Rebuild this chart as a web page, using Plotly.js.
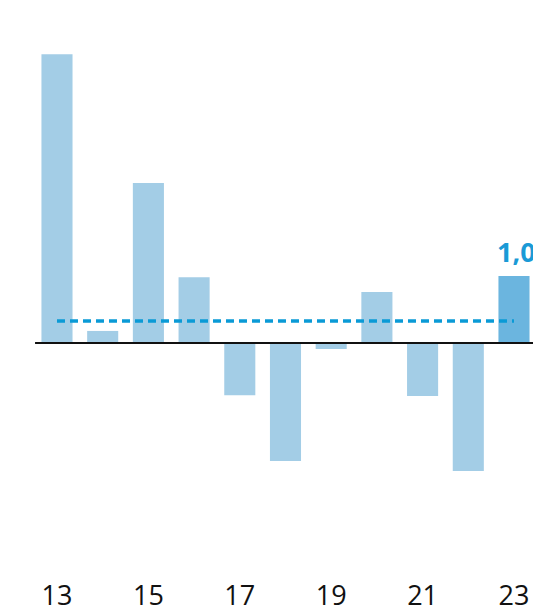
<!DOCTYPE html>
<html>
<head>
<meta charset="utf-8">
<script src="https://cdn.plot.ly/plotly-3.0.1.min.js"></script>
<style>html,body{margin:0;padding:0;background:#fff;}#chart{width:533px;height:613px;}</style>
</head>
<body>
<div id="chart"></div>
<script>
const years = [13, 14, 15, 16, 17, 18, 19, 20, 21, 22, 23];
const values = [4.31, 0.18, 2.39, 0.98, -0.78, -1.76, -0.09, 0.76, -0.79, -1.91, 1.0];
const barColors = ['#a3cde6','#a3cde6','#a3cde6','#a3cde6','#a3cde6','#a3cde6','#a3cde6','#a3cde6','#a3cde6','#a3cde6','#6bb5df'];
const avgYears = [13, 23];
const avgValues = [0.33, 0.33];
const tickYears = [13, 15, 17, 19, 21, 23];
const tickLabels = ['13', '15', '17', '19', '21', '23'];
const lastLabel = '1,0';

const traces = [
  {type:'bar', x: years, y: values, marker:{color: barColors, line:{width:0}}, hoverinfo:'none', showlegend:false},
  {type:'scatter', mode:'lines', x: avgYears, y: avgValues, line:{color:'#0a9ad6', width:3.5, dash:'8px,5px'}, hoverinfo:'none', showlegend:false}
];

const layout = {
  width:533, height:613,
  margin:{l:0, r:0, t:0, b:38},
  paper_bgcolor:'#fff', plot_bgcolor:'#fff',
  bargap:0.32,
  xaxis:{range:[11.753, 23.416], tickvals: tickYears, ticktext: tickLabels, showgrid:false, zeroline:false, showline:false, ticks:'', tickfont:{family:'Open Sans', size:27, color:'#111'}, ticklabelstandoff:2, fixedrange:true},
  yaxis:{range:[-3.463, 5.12], showgrid:false, zeroline:false, showline:false, showticklabels:false, ticks:'', fixedrange:true},
  shapes:[{type:'line', xref:'x', yref:'y', x0:12.52, x1:23.416, y0:0, y1:0, line:{color:'#111', width:2}}],
  annotations:[{x:23, y:1.0, xref:'x', yref:'y', text:'<b>'+lastLabel+'</b>', showarrow:false, yanchor:'bottom', xanchor:'left', xshift:-19, yshift:4, font:{family:'Open Sans', size:27, color:'#1a9ad6'}}]
};
Plotly.newPlot('chart', traces, layout, {staticPlot:true, displayModeBar:false});
</script>
</body>
</html>
